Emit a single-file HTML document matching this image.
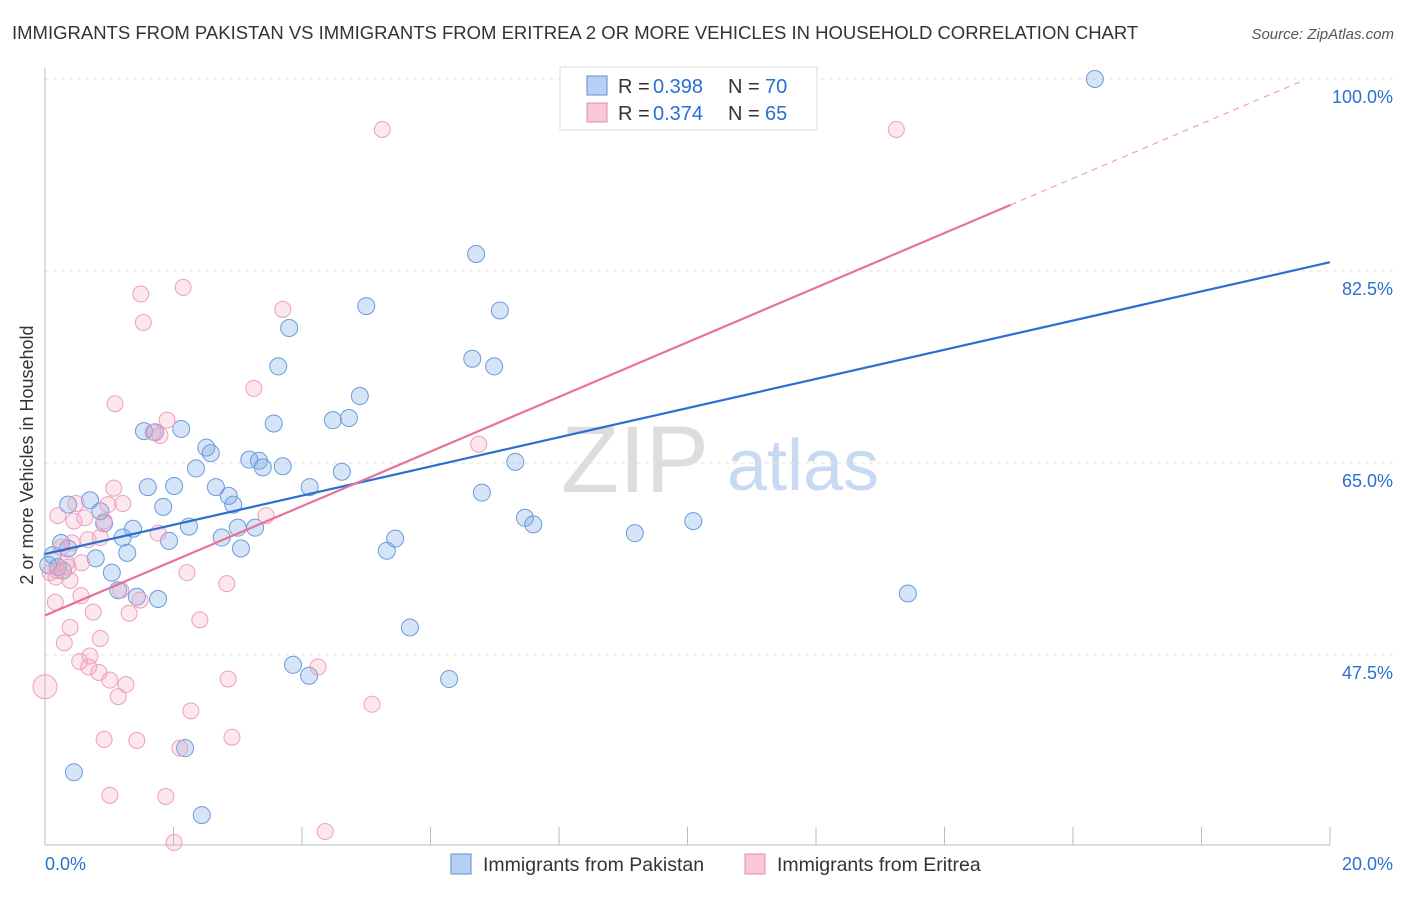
<!DOCTYPE html>
<html><head><meta charset="utf-8"><style>
body{margin:0;background:#fff;font-family:"Liberation Sans",sans-serif;}
svg text{font-family:"Liberation Sans",sans-serif;}
</style></head><body>
<svg id="chart" width="1406" height="892" xmlns="http://www.w3.org/2000/svg">
<text x="12" y="39" font-size="18.5" fill="#333">IMMIGRANTS FROM PAKISTAN VS IMMIGRANTS FROM ERITREA 2 OR MORE VEHICLES IN HOUSEHOLD CORRELATION CHART</text>
<text x="1394" y="39" font-size="15" fill="#555" font-style="italic" text-anchor="end">Source: ZipAtlas.com</text>
<text x="635" y="492" font-size="95" fill="#ddd" font-family="Liberation Serif" text-anchor="middle">ZIP</text>
<text x="803" y="490" font-size="72" fill="#c8daf2" text-anchor="middle">atlas</text>
<g id="grid"></g><g id="axes"></g><g id="pts"></g><g id="lines"></g>
<text transform="translate(33,455) rotate(-90)" font-size="18" fill="#333" text-anchor="middle">2 or more Vehicles in Household</text>
<g>
<rect x="560" y="67" width="257" height="63" fill="#fff" stroke="#ddd"/>
<rect x="587" y="76" width="20" height="19" fill="#b8d0f2" stroke="#5b8fd9"/>
<text x="618" y="93" font-size="20" fill="#333">R =</text>
<text x="653" y="93" font-size="20" fill="#2a6fd1">0.398</text>
<text x="728" y="93" font-size="20" fill="#333">N =</text>
<text x="765" y="93" font-size="20" fill="#2a6fd1">70</text>
<rect x="587" y="103" width="20" height="19" fill="#f8c8d6" stroke="#e88aa8"/>
<text x="618" y="120" font-size="20" fill="#333">R =</text>
<text x="653" y="120" font-size="20" fill="#2a6fd1">0.374</text>
<text x="728" y="120" font-size="20" fill="#333">N =</text>
<text x="765" y="120" font-size="20" fill="#2a6fd1">65</text>
</g>
<g>
<rect x="451" y="854" width="20" height="20" fill="#b8d0f2" stroke="#5b8fd9"/>
<text x="483" y="871" font-size="19.5" fill="#333">Immigrants from Pakistan</text>
<rect x="745" y="854" width="20" height="20" fill="#f8c8d6" stroke="#e88aa8"/>
<text x="777" y="871" font-size="19.5" fill="#333">Immigrants from Eritrea</text>
</g>
</svg>
<script>
const yTicks=[100,82.5,65,47.5];
const yTickLabels=["100.0%","82.5%","65.0%","47.5%"];
const xTickLabels=["0.0%","20.0%"];
const blueX=[16.34,6.71,5.0,7.08,3.80,6.65,6.99,3.63,4.90,4.73,4.48,3.56,1.54,2.12,1.71,2.51,2.58,3.18,3.33,3.39,3.70,2.35,7.32,4.62,1.60,2.01,4.12,2.66,2.86,6.80,0.70,0.36,2.93,1.84,0.86,7.47,7.60,10.09,0.92,2.24,1.37,3.00,3.27,9.18,1.21,1.93,2.75,5.45,0.25,3.05,5.32,1.28,0.12,0.79,0.05,0.20,0.28,1.04,1.14,1.43,1.76,13.43,5.68,3.86,4.11,6.29,0.45,2.18,2.44,0.36];
const blueY=[100,84.05,79.3,78.9,77.3,74.5,73.8,73.8,71.1,69.1,68.9,68.6,67.9,68.1,67.8,66.4,65.9,65.3,65.2,64.6,64.7,64.5,65.1,64.2,62.8,62.9,62.8,62.8,62.0,62.3,61.6,61.2,61.2,61.0,60.6,60.0,59.4,59.7,59.5,59.2,59.0,59.1,59.1,58.6,58.2,57.9,58.2,58.1,57.7,57.2,57.0,56.8,56.6,56.3,55.7,55.5,55.2,55.0,53.4,52.8,52.6,53.1,50.0,46.6,45.6,45.3,36.8,39.0,32.9,57.2];
const pinkX=[5.25,13.25,2.15,1.49,3.70,1.53,3.25,1.09,1.90,1.68,1.79,6.75,1.07,0.48,1.21,0.98,0.20,3.44,0.62,0.92,0.45,1.76,0.67,0.86,0.42,0.25,0.33,0.19,0.08,0.39,2.21,2.83,0.56,1.18,1.48,0.16,0.75,1.31,2.41,0.39,0.86,0.30,0.70,4.25,0.54,0.68,1.01,0.84,1.26,1.14,0.0,2.85,5.09,2.27,0.92,1.43,2.91,2.10,1.01,1.88,4.36,2.01,0.36,0.17,0.57];
const pinkY=[95.4,95.4,81.0,80.4,79.0,77.8,71.8,70.4,68.9,67.8,67.5,66.7,62.7,61.3,61.3,61.2,60.2,60.2,60.0,59.7,59.7,58.6,58.0,58.2,57.7,57.3,55.9,55.2,55.0,54.3,55.0,54.0,52.9,53.4,52.5,52.3,51.4,51.3,50.7,50.0,49.0,48.6,47.4,46.4,46.9,46.4,45.2,45.9,44.8,43.7,44.6,45.3,43.0,42.4,39.8,39.7,40.0,39.0,34.7,34.6,31.4,30.4,55.5,54.6,55.9];
const pinkR=[8,8,8,8,8,8,8,8,8,8,8,8,8,8,8,8,8,8,8,8,8,8,8,8,8,8,8,8,8,8,8,8,8,8,8,8,8,8,8,8,8,8,8,8,8,8,8,8,8,8,12,8,8,8,8,8,8,8,8,8,8,8,8,8,8];
const blueTrend=[56.7,83.3];
const pinkTrend=[51.1,100.9];
const NS="http://www.w3.org/2000/svg";
const X0=45,X1=1330;
function sx(v){return X0+(v/20)*(X1-X0);}
function sy(v){return 79+(100-v)*10.97;}
function mk(tag,attrs,parent){const e=document.createElementNS(NS,tag);for(const k in attrs)e.setAttribute(k,attrs[k]);document.getElementById(parent).appendChild(e);return e;}
yTicks.forEach((t,i)=>{
 const g=mk('line',{x1:X0,x2:1393,y1:sy(t),y2:sy(t),stroke:'#e2e2e2','stroke-dasharray':'4,4'},'grid');
 
 
 const tx=mk('text',{x:1393,y:sy(t)+24,'font-size':18,fill:'#2a6fd1','text-anchor':'end'},'grid');
 tx.textContent=yTickLabels[i];
 
 
});
const ax=mk('line',{x1:X0,x2:X1,y1:845,y2:845,stroke:'#bbb'},'axes');


const ay=mk('line',{x1:X0,x2:X0,y1:68,y2:845,stroke:'#bbb'},'axes');


for(let i=0;i<=10;i++){
 const t=mk('line',{x1:sx(i*2),x2:sx(i*2),y1:827,y2:845,stroke:'#bbb'},'axes');
 
 
}
[[0,'start'],[20,'end']].forEach((p,i)=>{
 const t=mk('text',{x:sx(p[0])+(i?63:0),y:870,'font-size':18,fill:'#2a6fd1','text-anchor':p[1]},'axes');
 t.textContent=xTickLabels[i];
 
 
});
blueX.forEach((x,i)=>{
 const c=mk('circle',{cx:sx(x),cy:sy(blueY[i]),r:8.5,fill:'rgba(120,165,230,0.3)',stroke:'#6a9ade','stroke-width':1},'pts');
 
 
});
pinkX.forEach((x,i)=>{
 const c=mk('circle',{cx:sx(x),cy:sy(pinkY[i]),r:pinkR[i],fill:'rgba(245,160,190,0.25)',stroke:'#ee9fb9','stroke-width':1},'pts');
 
 
});
const bl=mk('line',{x1:sx(0),y1:sy(blueTrend[0]),x2:sx(20),y2:sy(blueTrend[1]),stroke:'#2a6fd1','stroke-width':2.2},'lines');


const xm=15.03, ym=pinkTrend[0]+(pinkTrend[1]-pinkTrend[0])*xm/20;
const pl=mk('line',{x1:sx(0),y1:sy(pinkTrend[0]),x2:sx(xm),y2:sy(ym),stroke:'#e8709a','stroke-width':2.2},'lines');


const xe=19.6, ye=pinkTrend[0]+(pinkTrend[1]-pinkTrend[0])*xe/20;
const pd=mk('line',{x1:sx(xm),y1:sy(ym),x2:sx(xe),y2:sy(ye),stroke:'#f0a0bb','stroke-width':1.2,'stroke-dasharray':'6,5'},'lines');


</script>
</body></html>
